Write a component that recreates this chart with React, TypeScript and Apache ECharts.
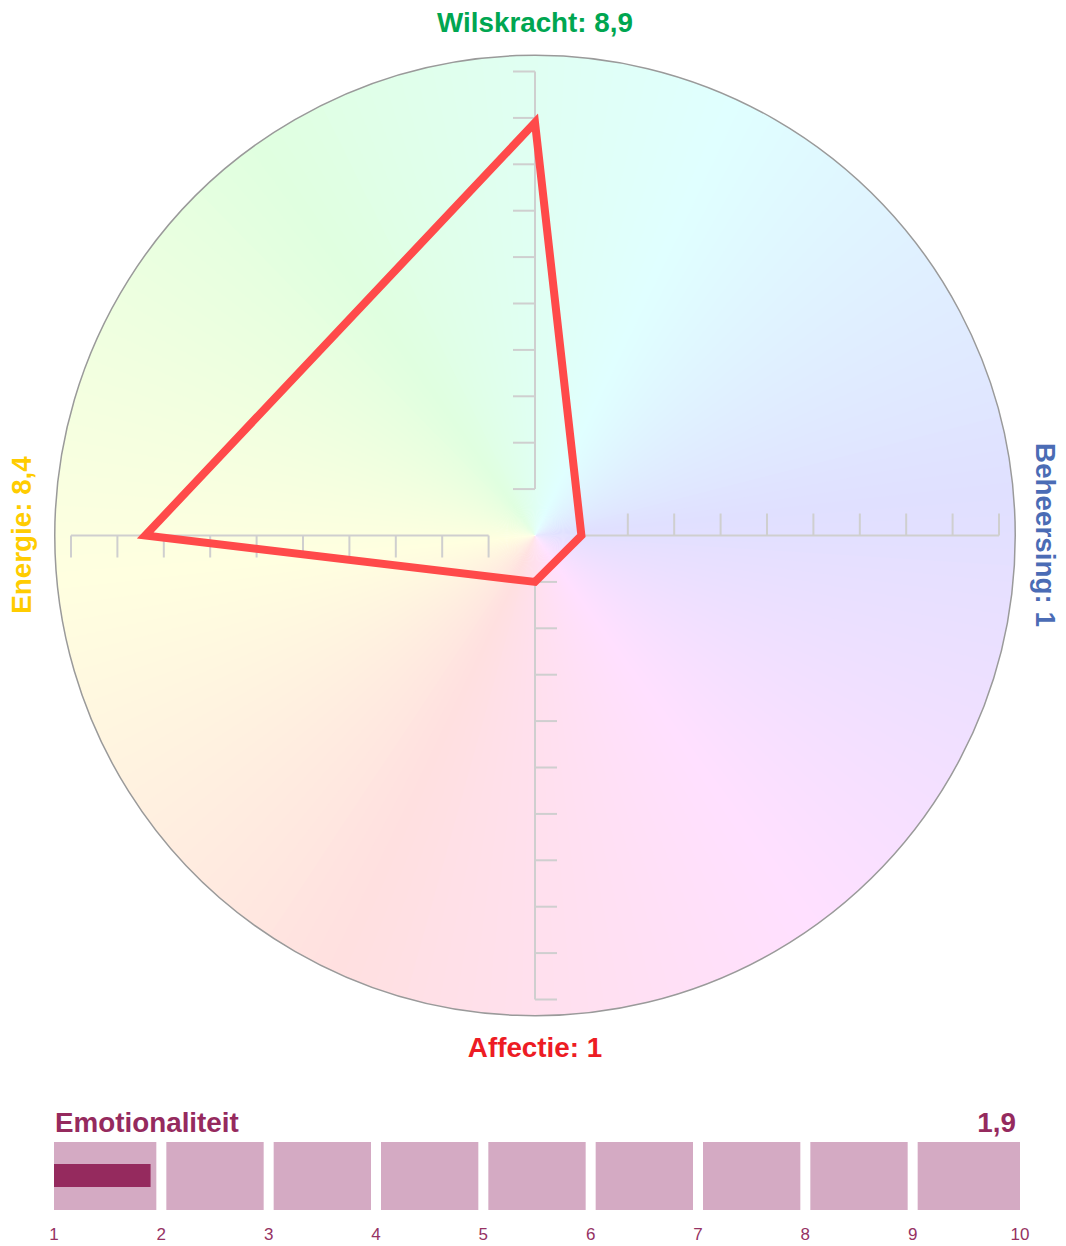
import React, { useEffect, useRef } from "react";
import * as echarts from "echarts";

// ---- data ----
const axisNames = ["Wilskracht", "Beheersing", "Affectie", "Energie"];
const axisValues = [8.9, 1, 1, 8.4];
const axisColors = ["#00a651", "#4b6cb5", "#ed1c24", "#ffcc00"];
const axisTicks = [1, 2, 3, 4, 5, 6, 7, 8, 9, 10];
const circleRadius = 10.35;

const barLabel = "Emotionaliteit";
const barValue = 1.9;
const barTicks = [1, 2, 3, 4, 5, 6, 7, 8, 9, 10];

// axis directions (clockwise from top) in data space (y up)
const dirs = [
  [0, 1],
  [1, 0],
  [0, -1],
  [-1, 0],
];

const FONT = "'Liberation Sans', Arial, Helvetica, sans-serif";
const fmt = (v: number) => String(v).replace(".", ",");

export default function App() {
  const ref = useRef<HTMLDivElement>(null);

  useEffect(() => {
    if (!ref.current) return;
    const chart = echarts.init(ref.current, null, { renderer: "svg" });

    const U = 46.4;
    const E = 11;
    const CX = 535;
    const CY = 535.5;
    const tickLen = 22 / U;
    const TS = 27.8;

    const polyPoints = axisValues.map((v, i) => [dirs[i][0] * v, dirs[i][1] * v]);

    const option: any = {
      animation: false,
      grid: [
        { left: CX - E * U, top: CY - E * U, width: 2 * E * U, height: 2 * E * U },
        { left: 54, top: 1142, width: 966, height: 68 },
      ],
      xAxis: [
        { type: "value", gridIndex: 0, min: -E, max: E, show: false },
        {
          type: "value",
          gridIndex: 1,
          min: 1,
          max: 10,
          interval: 1,
          axisLine: { show: false },
          axisTick: { show: false },
          splitLine: { show: false },
          axisLabel: {
            show: true,
            showMinLabel: true,
            showMaxLabel: true,
            color: "#963263",
            fontSize: 17,
            fontFamily: FONT,
            margin: 16,
            formatter: (v: number) => (barTicks.indexOf(v) >= 0 ? String(v) : ""),
          },
        },
      ],
      yAxis: [
        { type: "value", gridIndex: 0, min: -E, max: E, show: false },
        { type: "value", gridIndex: 1, min: 0, max: 1, show: false },
      ],
      series: [
        // background colour wheel
        {
          type: "custom",
          xAxisIndex: 0,
          yAxisIndex: 0,
          clip: false,
          z: 1,
          data: [[0, 0]],
          renderItem: (params: any, api: any) => {
            const c = api.coord([0, 0]);
            const e = api.coord([circleRadius, 0]);
            const r = e[0] - c[0];
            const children: any[] = [];
            const N = 180;
            for (let k = 0; k < N; k++) {
              const t0 = (k * 360) / N;
              const t1 = ((k + 1) * 360) / N;
              const mid = (t0 + t1) / 2;
              const hue = (155 + mid) % 360;
              const col = `hsl(${hue.toFixed(1)}, 100%, 94%)`;
              children.push({
                type: "sector",
                shape: {
                  cx: c[0],
                  cy: c[1],
                  r0: 0,
                  r,
                  startAngle: ((t0 - 90 - 0.4) * Math.PI) / 180,
                  endAngle: ((t1 - 90 + 0.4) * Math.PI) / 180,
                  clockwise: true,
                },
                style: { fill: col, stroke: null },
                silent: true,
              });
            }
            children.push({
              type: "circle",
              shape: { cx: c[0], cy: c[1], r },
              style: { fill: "none", stroke: "#9a9a9a", lineWidth: 1.5 },
              silent: true,
            });
            return { type: "group", children };
          },
        },
        // axes with ticks
        {
          type: "custom",
          xAxisIndex: 0,
          yAxisIndex: 0,
          clip: false,
          z: 2,
          data: axisNames.map((_, i) => [i, 0]),
          renderItem: (params: any, api: any) => {
            const i = params.dataIndex;
            const d = dirs[i];
            const side = [-d[1], d[0]];
            const first = axisTicks[0];
            const last = axisTicks[axisTicks.length - 1];
            const a = api.coord([d[0] * first, d[1] * first]);
            const b = api.coord([d[0] * last, d[1] * last]);
            const children: any[] = [
              {
                type: "line",
                shape: { x1: a[0], y1: a[1], x2: b[0], y2: b[1] },
                style: { stroke: "#cfcfcf", lineWidth: 2 },
              },
            ];
            axisTicks.forEach((v) => {
              const p = api.coord([d[0] * v, d[1] * v]);
              const q = api.coord([d[0] * v + side[0] * tickLen, d[1] * v + side[1] * tickLen]);
              children.push({
                type: "line",
                shape: { x1: p[0], y1: p[1], x2: q[0], y2: q[1] },
                style: { stroke: "#cfcfcf", lineWidth: 2 },
              });
            });
            return { type: "group", children };
          },
        },
        // value polygon
        {
          type: "custom",
          xAxisIndex: 0,
          yAxisIndex: 0,
          clip: false,
          z: 3,
          data: [[0, 0]],
          renderItem: (params: any, api: any) => {
            const pts = polyPoints.map((p) => api.coord(p));
            return {
              type: "polygon",
              shape: { points: pts },
              style: {
                fill: "none",
                stroke: "#ff4a4a",
                lineWidth: 8,
                lineJoin: "miter",
                miterLimit: 10,
              },
            };
          },
        },
        // bar segments
        {
          type: "custom",
          xAxisIndex: 1,
          yAxisIndex: 1,
          clip: false,
          z: 2,
          data: barTicks.slice(0, -1).map((t, i) => [t, barTicks[i + 1]]),
          renderItem: (params: any, api: any) => {
            const s = api.value(0);
            const e = api.value(1);
            const p1 = api.coord([s, 0]);
            const p2 = api.coord([e, 1]);
            const gap = 5;
            const x1 = p1[0] + (s === barTicks[0] ? 0 : gap);
            const x2 = p2[0] - (e === barTicks[barTicks.length - 1] ? 0 : gap);
            return {
              type: "rect",
              shape: { x: x1, y: p2[1], width: x2 - x1, height: p1[1] - p2[1] },
              style: { fill: "#d4aac3" },
            };
          },
        },
        // value bar
        {
          type: "custom",
          xAxisIndex: 1,
          yAxisIndex: 1,
          clip: false,
          z: 3,
          data: [[barTicks[0], barValue]],
          renderItem: (params: any, api: any) => {
            const p1 = api.coord([api.value(0), 0.338]);
            const p2 = api.coord([api.value(1), 0.676]);
            return {
              type: "rect",
              shape: { x: p1[0], y: p2[1], width: p2[0] - p1[0], height: p1[1] - p2[1] },
              style: { fill: "#952a5e" },
            };
          },
        },
      ],
      graphic: [
        {
          type: "text",
          x: 535,
          y: 22.5,
          style: {
            text: `${axisNames[0]}: ${fmt(axisValues[0])}`,
            fill: axisColors[0],
            fontSize: TS,
            fontWeight: "bold",
            fontFamily: FONT,
            align: "center",
            verticalAlign: "middle",
          },
        },
        {
          type: "text",
          x: 1045,
          y: 535,
          rotation: -Math.PI / 2,
          style: {
            text: `${axisNames[1]}: ${fmt(axisValues[1])}`,
            fill: axisColors[1],
            fontSize: TS,
            fontWeight: "bold",
            fontFamily: FONT,
            align: "center",
            verticalAlign: "middle",
          },
        },
        {
          type: "text",
          x: 535,
          y: 1047.5,
          style: {
            text: `${axisNames[2]}: ${fmt(axisValues[2])}`,
            fill: axisColors[2],
            fontSize: TS,
            fontWeight: "bold",
            fontFamily: FONT,
            align: "center",
            verticalAlign: "middle",
          },
        },
        {
          type: "text",
          x: 21,
          y: 535,
          rotation: Math.PI / 2,
          style: {
            text: `${axisNames[3]}: ${fmt(axisValues[3])}`,
            fill: axisColors[3],
            fontSize: TS,
            fontWeight: "bold",
            fontFamily: FONT,
            align: "center",
            verticalAlign: "middle",
          },
        },
        {
          type: "text",
          x: 55,
          y: 1122,
          style: {
            text: barLabel,
            fill: "#952a5e",
            fontSize: TS,
            fontWeight: "bold",
            fontFamily: FONT,
            align: "left",
            verticalAlign: "middle",
          },
        },
        {
          type: "text",
          x: 1016,
          y: 1122,
          style: {
            text: fmt(barValue),
            fill: "#952a5e",
            fontSize: TS,
            fontWeight: "bold",
            fontFamily: FONT,
            align: "right",
            verticalAlign: "middle",
          },
        },
      ],
    };

    chart.setOption(option);
    return () => chart.dispose();
  }, []);

  return (
    <div
      ref={ref}
      style={{ position: "absolute", left: 0, top: 0, width: 1066, height: 1246 }}
    />
  );
}
